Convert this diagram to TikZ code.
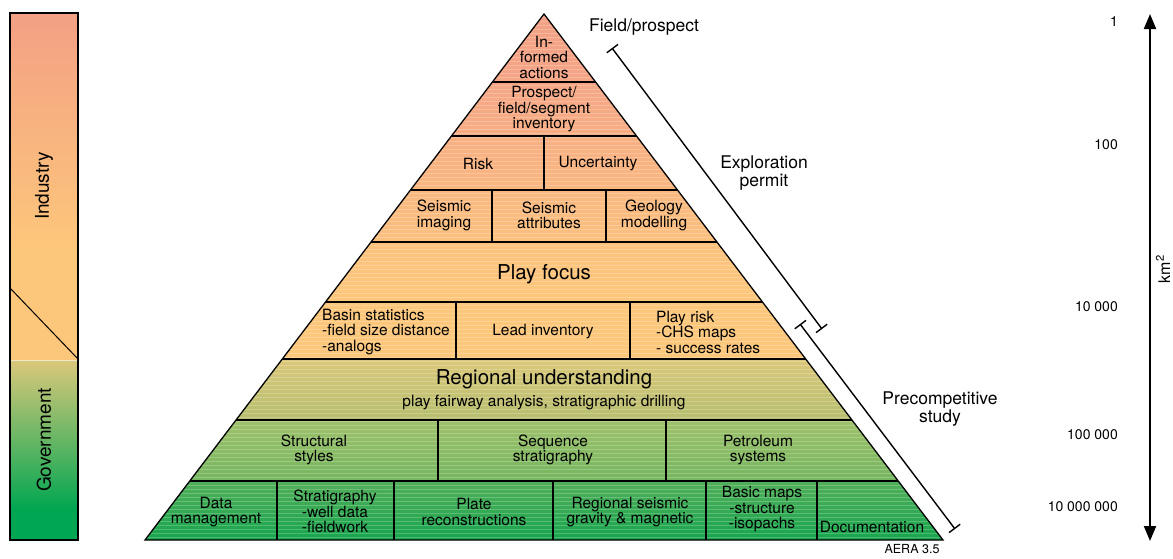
\documentclass[tikz,border=0pt]{standalone}
\usepackage{fontspec}
\setmainfont{TeX Gyre Heros}
\usetikzlibrary{arrows.meta, calc}
% row colours, top to bottom
\definecolor{r1t}{HTML}{F3A084}
\definecolor{r1b}{HTML}{F5A685}
\definecolor{r2t}{HTML}{F5A785}
\definecolor{r2b}{HTML}{F7AD83}
\definecolor{r3t}{HTML}{F8AF82}
\definecolor{r3b}{HTML}{FAB780}
\definecolor{r4t}{HTML}{FAB880}
\definecolor{r4b}{HTML}{FCC07D}
\definecolor{r5t}{HTML}{FCC27C}
\definecolor{r5b}{HTML}{FDC77B}
\definecolor{r6}{HTML}{FDC77B}
\definecolor{r7t}{HTML}{DBC87A}
\definecolor{r7b}{HTML}{B6BE6E}
\definecolor{r8t}{HTML}{A0C16B}
\definecolor{r8b}{HTML}{74B65F}
\definecolor{r9t}{HTML}{52AF59}
\definecolor{r9b}{HTML}{16A54E}
\definecolor{govgreen}{HTML}{00A651}
\definecolor{govolive}{HTML}{8DBB66}
\newcommand{\cellfont}{\fontsize{15.5pt}{15.5pt}\selectfont}
\newcommand{\headfont}{\fontsize{20.5pt}{22pt}\selectfont}
\newcommand{\sidefont}{\fontsize{17.5pt}{18pt}\selectfont}
\newcommand{\kmfont}{\fontsize{14pt}{16pt}\selectfont}
\newcommand{\unitfont}{\fontsize{16pt}{18pt}\selectfont}
\newcommand{\barfont}{\fontsize{19pt}{20pt}\selectfont}
\newcommand{\notefont}{\fontsize{12.5pt}{14pt}\selectfont}

\begin{document}
\begin{tikzpicture}[
    x=1pt, y=-1pt,
    cell/.style={align=center, font=\cellfont, inner sep=0pt},
    listcell/.style={align=left, font=\cellfont, inner sep=0pt, anchor=west},
    head/.style={font=\headfont, inner sep=0pt},
    side/.style={align=center, font=\sidefont, inner sep=0pt},
    kmlabel/.style={font=\kmfont, anchor=east, inner sep=0pt},
    divider/.style={line width=1.1pt},
    span/.style={{Bar[width=14pt]}-{Bar[width=14pt]}, line width=1.4pt}
  ]
    \useasboundingbox (0,0) rectangle (1173,558);

    % left bar: industry / government
    \shade[top color=r1t, bottom color=r6] (10,13) rectangle (78,250);
    \fill[r6] (10,249) rectangle (78,360);
    \shade[top color=r7t, middle color=govolive, bottom color=govgreen] (10,360) rectangle (78,510);
    \fill[govgreen] (10,509) rectangle (78,540);
    \draw[white, opacity=0.6, line width=0.6pt] (10,360) -- (78,360);
    \draw[line width=1.2pt] (10,13) rectangle (78,540);
    \draw[line width=1pt] (10,288) -- (78,359);
    \node[rotate=90, font=\barfont] (industry) at (44,186) {Industry};
    \node[rotate=90, font=\barfont] (government) at (44,440) {Government};

    % pyramid
    \coordinate (apex) at (544,14);
    \coordinate (bl) at (145,540);
    \coordinate (br) at (943,540);
    \foreach \ya/\yb/\ct/\cb in {14/82/r1t/r1b, 82/136/r2t/r2b, 136/190/r3t/r3b,
        190/242/r4t/r4b, 242/302/r5t/r5b, 302/359/r6/r6, 359/420/r7t/r7b,
        420/481/r8t/r8b, 481/540/r9t/r9b}{
      \pgfmathsetmacro\ta{(\ya-14)/526}
      \pgfmathsetmacro\tb{(\yb-14)/526}
      \shade[top color=\ct, bottom color=\cb] ($(apex)!\ta!(bl)$) -- ($(apex)!\tb!(bl)$)
        -- ($(apex)!\tb!(br)$) -- ($(apex)!\ta!(br)$) -- cycle;
    }
    \begin{scope}
      \clip (apex) -- (bl) -- (br) -- cycle;
      \foreach \y in {17,21,...,537}
        \draw[white, opacity=0.22, line width=0.7pt] (140,\y) -- (950,\y);
    \end{scope}
    \foreach \y in {82,136,190,242,302,359,420,481}{
      \pgfmathsetmacro\t{(\y-14)/526}
      \draw[divider] ($(apex)!\t!(bl)$) -- ($(apex)!\t!(br)$);
    }
    \foreach \x/\ya/\yb in {544/136/190, 492/190/242, 606/190/242, 456/302/359,
        630/302/359, 438/420/481, 666/420/481, 277/481/540, 394/481/540,
        553/481/540, 706/481/540, 817/481/540}
      \draw[divider] (\x,\ya) -- (\x,\yb);
    \draw[line width=1.3pt] (apex) -- (bl) -- (br) -- cycle;

    % cells
    \node[cell] (informed) at (544,57) {In-\\formed\\actions};
    \node[cell] (prospect) at (544,109.5) {Prospect/\\field/segment\\inventory};
    \node[cell] (risk) at (478,164) {Risk};
    \node[cell] (uncert) at (598,164) {Uncertainty};
    \node[cell] (imaging) at (444,215.5) {Seismic\\imaging};
    \node[cell] (attrib) at (549,215.5) {Seismic\\attributes};
    \node[cell] (geomod) at (654,215.5) {Geology\\modelling};
    \node[head] (playfocus) at (544,274) {Play focus};
    \node[listcell] (basin) at (322,332) {Basin statistics\\-field size distance\\-analogs};
    \node[cell] (lead) at (543,332) {Lead inventory};
    \node[listcell] (playrisk) at (656,332) {Play risk\\-CHS maps\\- success rates};
    \node[head] (regional) at (544,379) {Regional understanding};
    \node[cell] (fairway) at (544,403) {play fairway analysis, stratigraphic drilling};
    \node[cell] (structural) at (314,450) {Structural\\styles};
    \node[cell] (sequence) at (553,450) {Sequence\\stratigraphy};
    \node[cell] (petroleum) at (758,450) {Petroleum\\systems};
    \node[cell] (datamgmt) at (216,512) {Data\\management};
    \node[cell] (stratig) at (335,511.5) {Stratigraphy\\-well data\\-fieldwork};
    \node[cell] (plate) at (474,512) {Plate\\reconstructions};
    \node[cell] (regseis) at (630,512) {Regional seismic\\gravity \& magnetic};
    \node[cell] (basicmaps) at (762,509.5) {Basic maps\\-structure\\-isopachs};
    \node[cell] (docu) at (872,527) {Documentation};

    % study spans
    \node[side] (fieldlbl) at (644,27) {Field/prospect};
    \node[side] (permit) at (764,173) {Exploration\\permit};
    \node[side] (precomp) at (940,409) {Precompetitive\\study};
    \coordinate (expTop) at (612,48);
    \coordinate (expEnd) at (822,329);
    \coordinate (preTop) at (800,324);
    \coordinate (preEnd) at (955,529);
    \draw[span] (expTop) -- (expEnd);
    \draw[span] (preTop) -- (preEnd);
    \node[font=\notefont] (aera) at (912,549) {AERA 3.5};

    % area scale
    \coordinate (kmTop) at (1150,14);
    \coordinate (kmBot) at (1150,541);
    \draw[{Triangle[width=12pt,length=15pt]}-{Triangle[width=12pt,length=15pt]}, line width=2pt] (kmBot) -- (kmTop);
    \node[kmlabel] (km1) at (1118,22) {1};
    \node[kmlabel] (km2) at (1118,145) {100};
    \node[kmlabel] (km3) at (1118,307) {10 000};
    \node[kmlabel] (km4) at (1118,435) {100 000};
    \node[kmlabel] (km5) at (1118,507) {10 000 000};
    \node[rotate=90, font=\unitfont] (kmunit) at (1163,269) {km\textsuperscript{2}};
  \end{tikzpicture}
\end{document}
